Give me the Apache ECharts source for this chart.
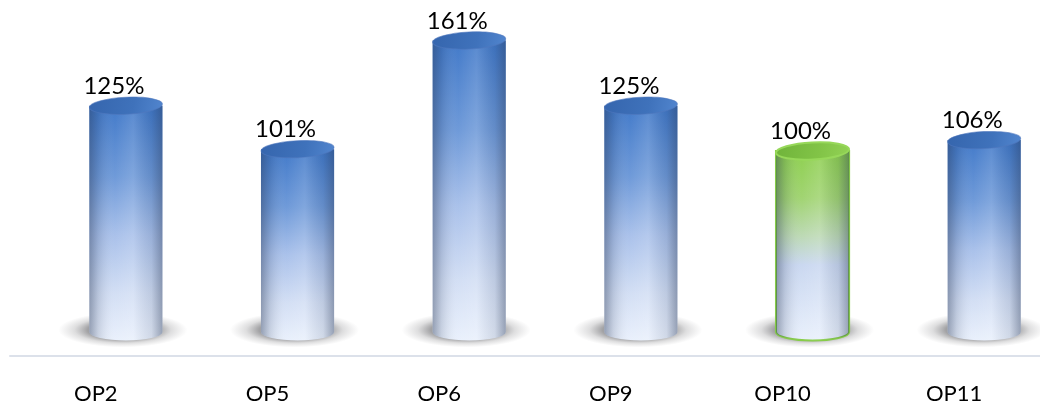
<!DOCTYPE html>
<html>
<head>
<meta charset="utf-8">
<script src="https://cdn.jsdelivr.net/npm/echarts@6/dist/echarts.min.js"></script>
<style>
  html, body { margin: 0; padding: 0; background: #ffffff; }
  #chart { width: 1040px; height: 405px; }
</style>
</head>
<body>
<div id="chart"></div>
<script>
// Categories and their percentage values
const categories = ['OP2', 'OP5', 'OP6', 'OP9', 'OP10', 'OP11'];
const values = [125, 101, 161, 125, 100, 106];
// The reference operation is drawn in green, the rest in blue
const highlight = ['OP10'];

const FONT = 'Lato, "Open Sans", sans-serif';

const blueBody = [
  { offset: 0, color: '#3e77c8' },
  { offset: 0.3, color: '#6c98d8' },
  { offset: 0.55, color: '#a8c0ea' },
  { offset: 0.8, color: '#d2def4' },
  { offset: 1, color: '#e9f0fc' }
];
const greenBody = [
  { offset: 0, color: '#8ccf4c' },
  { offset: 0.25, color: '#9fd36f' },
  { offset: 0.45, color: '#bcd9b4' },
  { offset: 0.6, color: '#c9d7f0' },
  { offset: 1, color: '#e9f0fc' }
];

function renderCylinder(params, api) {
  const idx = api.value(0);
  const val = api.value(1);
  const band = api.size([1, 0])[0];
  const top = api.coord([idx, val]);
  const base = api.coord([idx, 0]);
  // perspective shift of the cylinders against the category slot
  const cx = top[0] + band * 0.175;
  const rx = band * 0.213;
  const ry = 8.5;
  const yt = top[1];
  const yb = base[1];
  const isGreen = highlight.indexOf(categories[idx]) >= 0;

  const bodyPath = 'M' + (cx - rx) + ' ' + yt +
    ' L' + (cx - rx) + ' ' + yb +
    ' A' + rx + ' ' + ry + ' 0 0 0 ' + (cx + rx) + ' ' + yb +
    ' L' + (cx + rx) + ' ' + yt + ' Z';

  const children = [];
  // soft floor shadow
  children.push({
    type: 'circle',
    x: cx - 3, y: yb - 2,
    scaleY: 0.27,
    shape: { cx: 0, cy: 0, r: rx + 28 },
    style: {
      fill: {
        type: 'radial', x: 0.5, y: 0.5, r: 0.5,
        colorStops: [
          { offset: 0, color: 'rgba(40,40,45,0.6)' },
          { offset: 0.55, color: 'rgba(50,50,55,0.45)' },
          { offset: 0.75, color: 'rgba(70,70,75,0.18)' },
          { offset: 1, color: 'rgba(90,90,95,0)' }
        ]
      }
    },
    silent: true
  });
  // body with vertical colour fade
  children.push({
    type: 'path',
    shape: { pathData: bodyPath },
    style: {
      fill: {
        type: 'linear', x: 0, y: 0, x2: 0, y2: 1,
        colorStops: isGreen ? greenBody : blueBody
      },
      stroke: isGreen ? '#86cc48' : null,
      lineWidth: isGreen ? 2 : 0
    }
  });
  // side shading for the round look
  children.push({
    type: 'path',
    shape: { pathData: bodyPath },
    style: {
      fill: {
        type: 'linear', x: 0, y: 0, x2: 1, y2: 0,
        colorStops: [
          { offset: 0, color: 'rgba(40,55,85,0.42)' },
          { offset: 0.12, color: 'rgba(40,55,85,0.16)' },
          { offset: 0.35, color: 'rgba(255,255,255,0.02)' },
          { offset: 0.6, color: 'rgba(255,255,255,0.14)' },
          { offset: 0.85, color: 'rgba(40,55,85,0.12)' },
          { offset: 1, color: 'rgba(40,55,85,0.42)' }
        ]
      }
    }
  });
  // top cap
  children.push({
    type: 'ellipse',
    x: cx, y: yt,
    rotation: 0.05,
    shape: { cx: 0, cy: 0, rx: rx, ry: ry },
    style: {
      fill: {
        type: 'linear', x: 0, y: 0, x2: 1, y2: 1,
        colorStops: isGreen
          ? [{ offset: 0, color: '#6fb33a' }, { offset: 0.6, color: '#82c447' }, { offset: 1, color: '#93d356' }]
          : [{ offset: 0, color: '#3565ad' }, { offset: 0.6, color: '#3f72bb' }, { offset: 1, color: '#5286cf' }]
      },
      stroke: isGreen ? '#97d85a' : 'rgba(80,120,190,0.6)',
      lineWidth: isGreen ? 2 : 1
    }
  });
  // value label
  children.push({
    type: 'text',
    x: cx - 12,
    y: yt - ry + 1,
    style: {
      text: val + '%',
      font: '24px ' + FONT,
      fill: '#000000',
      align: 'center',
      verticalAlign: 'bottom'
    }
  });
  return { type: 'group', children: children };
}

const chart = echarts.init(document.getElementById('chart'), null, { renderer: 'canvas' });
chart.setOption({
  backgroundColor: '#ffffff',
  animation: false,
  grid: { left: 10, right: -9, top: 40, bottom: 49.5 },
  xAxis: {
    type: 'category',
    data: categories,
    axisLine: { onZero: false, lineStyle: { color: '#dce1ea', width: 2 } },
    axisTick: { show: false },
    axisLabel: { color: '#000000', fontFamily: FONT, fontSize: 22, margin: 27 },
    splitLine: { show: false }
  },
  yAxis: {
    type: 'value',
    min: -13,
    max: 161.3,
    show: false,
    splitLine: { show: false }
  },
  series: [{
    type: 'custom',
    renderItem: renderCylinder,
    data: categories.map((c, i) => [i, values[i]]),
    clip: false
  }]
});
</script>
</body>
</html>
